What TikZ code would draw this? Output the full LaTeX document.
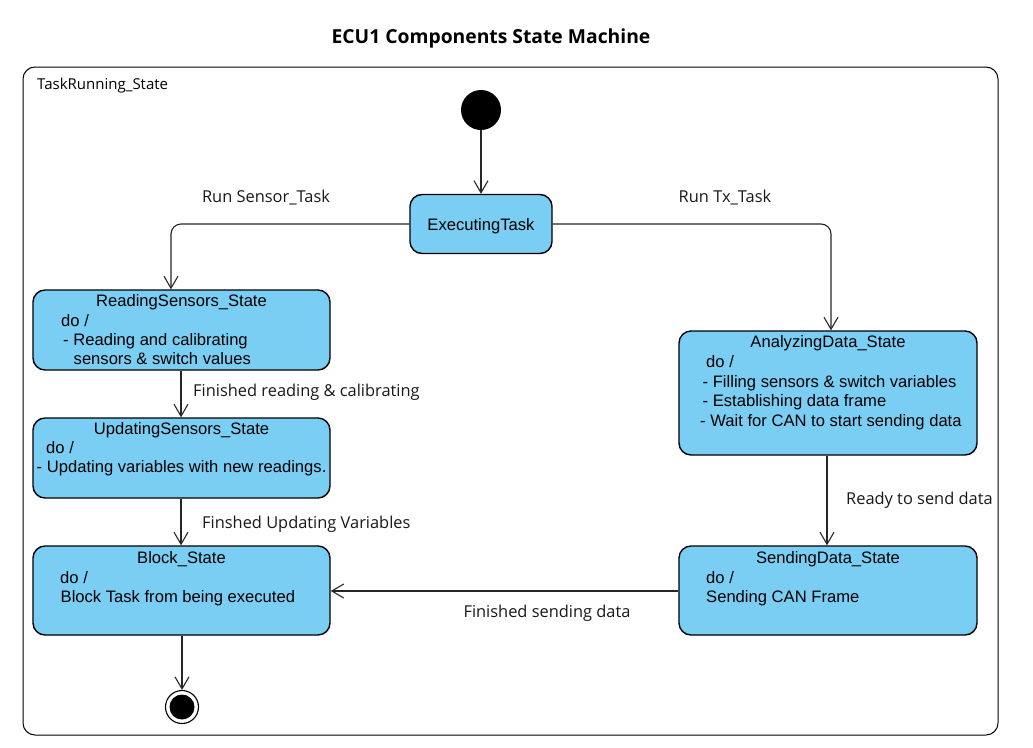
\documentclass[tikz,border=0pt]{standalone}
\usepackage{fontspec}
\setmainfont{Liberation Sans}
\newfontfamily\lblfont{Open Sans}
\usetikzlibrary{arrows.meta}
\definecolor{boxblue}{RGB}{122,206,243}
\definecolor{txt}{RGB}{25,25,25}
\tikzset{
  statebox/.style={draw=black, line width=1.4pt, fill=boxblue, rounded corners=12pt, inner sep=0pt},
  boxtxt/.style={anchor=base west, inner sep=0pt, font=\fontsize{16.6}{19}\selectfont, text=black},
  boxttl/.style={anchor=base, inner sep=0pt, font=\fontsize{16.6}{19}\selectfont, text=black},
  lbl/.style={inner sep=0pt, font=\lblfont\fontsize{16.4}{19}\selectfont, text=txt},
  trans/.style={draw=black!85, line width=1.1pt, -{Straight Barb[length=12pt,width=14pt,line width=1.1pt]}},
}
\begin{document}
\begin{tikzpicture}[x=1pt,y=-1pt]
\useasboundingbox (0,0) rectangle (1033,747);
\fill[white] (0,0) rectangle (1033,747);
% title
\node[inner sep=0pt, font=\lblfont\bfseries\fontsize{19.3}{23}\selectfont] (title) at (491,38) {ECU1 Components State Machine};
% outer frame
\draw[line width=1pt, rounded corners=12pt] (23,67) rectangle (998,735);
\node[anchor=base west, inner sep=0pt, font=\lblfont\fontsize{15}{17}\selectfont] (frame) at (37,89) {TaskRunning\_State};
% initial
\node[circle, fill=black, minimum size=40pt, inner sep=0pt] (init) at (481,110) {};
% Executing
\node[statebox, minimum width=142pt, minimum height=59pt] (exec) at (481,224) {};
\node[boxttl] (exect) at (481,230) {ExecutingTask};
% Reading
\node[statebox, minimum width=297pt, minimum height=80pt] (read) at (181.5,330) {};
\node[boxttl] at (181.5,306) {ReadingSensors\_State};
\node[boxtxt] at (61,326) {do /};
\node[boxtxt] at (63,345) {- Reading and calibrating};
\node[boxtxt] at (73.5,364) {sensors \& switch values};
% Updating
\node[statebox, minimum width=297pt, minimum height=80pt] (upd) at (181.5,458) {};
\node[boxttl] at (181.5,434) {UpdatingSensors\_State};
\node[boxtxt] at (46,453) {do /};
\node[boxtxt] at (36.5,472) {- Updating variables with new readings.};
% Block
\node[statebox, minimum width=297pt, minimum height=89pt] (block) at (181.5,590.5) {};
\node[boxttl] at (181.5,563) {Block\_State};
\node[boxtxt] at (60,583) {do /};
\node[boxtxt] at (60.5,602) {Block Task from being executed};
% Analyzing
\node[statebox, minimum width=298pt, minimum height=124pt] (ana) at (828,393) {};
\node[boxttl] at (828,347) {AnalyzingData\_State};
\node[boxtxt] at (706,367) {do /};
\node[boxtxt] at (702.5,387) {- Filling sensors \& switch variables};
\node[boxtxt] at (702.5,406) {- Establishing data frame};
\node[boxtxt] at (700,426) {- Wait for CAN to start sending data};
% Sending
\node[statebox, minimum width=298pt, minimum height=89pt] (send) at (828,590.5) {};
\node[boxttl] at (828,563) {SendingData\_State};
\node[boxtxt] at (706,583) {do /};
\node[boxtxt] at (706,602) {Sending CAN Frame};
% final
\node[circle, draw=black, line width=1.1pt, fill=white, minimum size=33pt, inner sep=0pt] (final) at (182,707) {};
\node[circle, fill=black, minimum size=25pt, inner sep=0pt] (finaldot) at (final) {};
% transitions
\draw[trans] (init) -- (exec);
\draw[trans, rounded corners=10pt] (exec.west) -| (read.north -| 171,0);
\draw[trans, rounded corners=10pt] (exec.east) -| (ana.north -| 831,0);
\draw[trans] (read.south -| 181,0) -- (upd.north -| 181,0);
\draw[trans] (upd.south -| 181,0) -- (block.north -| 181,0);
\draw[trans] (block.south -| final) -- (final.north);
\draw[trans] (ana.south -| 827,0) -- (send.north -| 827,0);
\draw[trans] (send.west |- 0,591) -- (block.east |- 0,591);
% labels
\node[lbl] (l1) at (266,198) {Run Sensor\_Task};
\node[lbl] (l2) at (725,198) {Run Tx\_Task};
\node[lbl, anchor=west] (l3) at (193,392) {Finished reading \& calibrating};
\node[lbl, anchor=west] (l4) at (202,524) {Finshed Updating Variables};
\node[lbl, anchor=west] (l5) at (846,500) {Ready to send data};
\node[lbl] (l6) at (547,613) {Finished sending data};
\end{tikzpicture}
\end{document}
